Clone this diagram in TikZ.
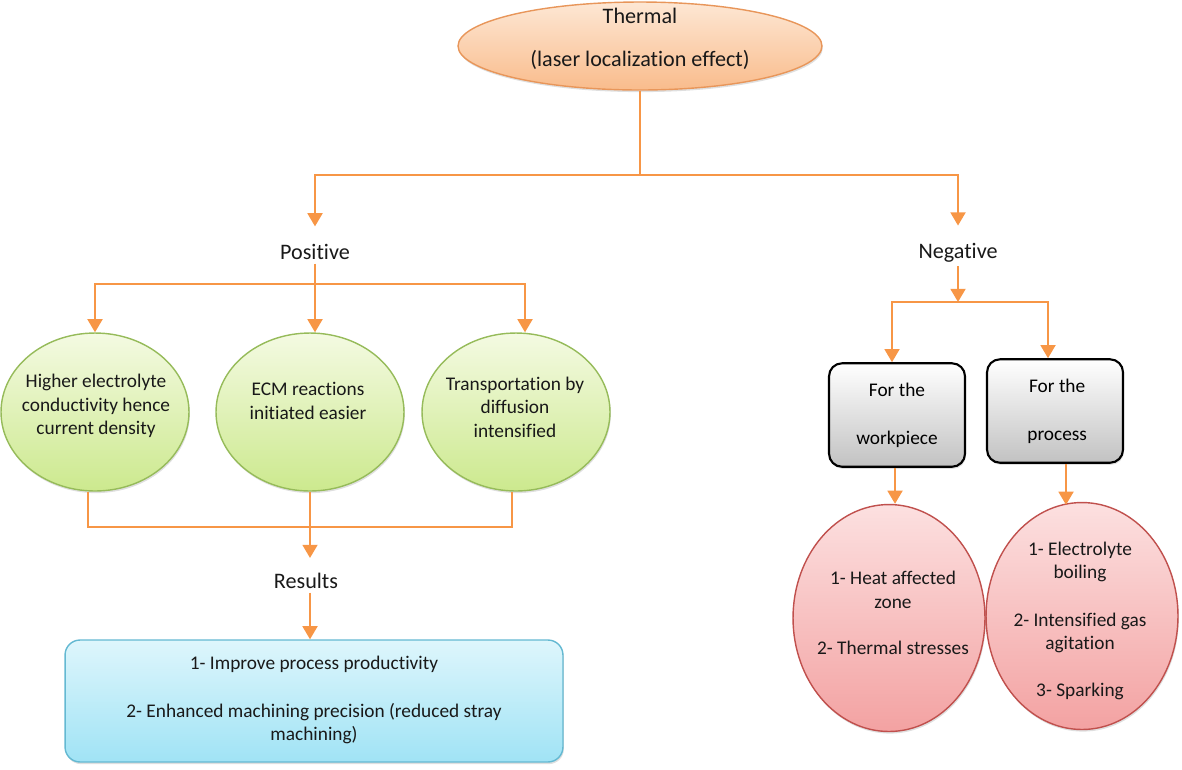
\documentclass[tikz,border=0pt]{standalone}
\usepackage{fontspec}
\setmainfont{Carlito}[Ligatures=NoCommon]
\usetikzlibrary{shapes.geometric,arrows.meta,shadows}
\definecolor{linkor}{RGB}{247,150,70}
\definecolor{thermtop}{RGB}{253,231,212}
\definecolor{thermbot}{RGB}{249,188,140}
\definecolor{thermline}{RGB}{232,150,90}
\definecolor{gtop}{RGB}{244,250,226}
\definecolor{gbot}{RGB}{204,233,142}
\definecolor{gline}{RGB}{150,187,90}
\definecolor{btop}{RGB}{222,246,252}
\definecolor{bbot}{RGB}{160,227,245}
\definecolor{bline}{RGB}{100,185,210}
\definecolor{ptop}{RGB}{252,224,224}
\definecolor{pbot}{RGB}{243,162,162}
\definecolor{pline}{RGB}{192,80,77}

\begin{document}
\begin{tikzpicture}[x=0.02cm, y=-0.02cm,
  font=\fontsize{11}{13.4}\selectfont,
  lnk/.style={draw=linkor, line width=1.2pt},
  arr/.style={lnk, -{Triangle[width=8.5pt,length=7.5pt]}},
  lbl/.style={inner sep=2pt, font=\fontsize{12.6}{15}\selectfont, text=black!90},
  txt/.style={align=center, inner sep=0pt, text=black!90},
  shd/.style={drop shadow={opacity=.25, shadow xshift=.5pt, shadow yshift=-1.2pt}},
  thermell/.style={ellipse, draw=thermline, line width=.8pt, top color=thermtop, bottom color=thermbot,
    minimum width=7.28cm, minimum height=1.76cm, shd},
  posell/.style={ellipse, draw=gline, line width=.8pt, top color=gtop, bottom color=gbot,
    minimum width=3.76cm, minimum height=3.16cm, shd},
  negell/.style={ellipse, draw=pline, line width=.8pt, top color=ptop, bottom color=pbot,
    minimum width=3.84cm, minimum height=4.54cm, shd},
  sidebox/.style={rectangle, rounded corners=0.26cm, draw=black, line width=1.2pt,
    top color=white, bottom color=black!24, minimum width=2.72cm, minimum height=2.07cm,
    align=center, shd},
  resbox/.style={rectangle, rounded corners=0.3cm, draw=bline, line width=.8pt, top color=btop, bottom color=bbot,
    minimum width=9.96cm, minimum height=2.44cm, shd}]

  \useasboundingbox (0,0) rectangle (1182,769);

  %% top
  \node[thermell] (therm) at (640,46) {};
  \node[txt, font=\fontsize{12.6}{15}\selectfont] (thermtxt) at (640,39) {Thermal\\[9.4pt](laser localization effect)};

  \node[lbl] (pos) at (315,252) {Positive};
  \node[lbl] (neg) at (958,253) {Negative};

  \coordinate (tj) at (640,175);
  \draw[lnk] (therm.south) -- (tj);
  \draw[arr, shorten >=8pt] (tj) -| (pos.north); % Thermal->Positive
  \draw[arr, shorten >=8pt] (tj) -| (neg.north); % Thermal->Negative

  %% positive side
  \node[posell] (g1) at (95,412) {};
  \node[posell] (g2) at (310,412) {};
  \node[posell] (g3) at (516,412) {};
  \node[txt] (g1txt) at (96,406) {Higher electrolyte\\conductivity hence\\current density};
  \node[txt] (g2txt) at (308,401) {ECM reactions\\initiated easier};
  \node[txt] (g3txt) at (515,407) {Transportation by\\diffusion\\intensified};

  \coordinate (pj) at (315,284);
  \draw[lnk] (pos.south) -- (pj);
  \draw[arr] (pj) -| (g1.north);
  \draw[arr] (pj) -| ([xshift=0.1cm]g2.north);
  \draw[arr] (pj) -| ([xshift=0.18cm]g3.north);

  \node[lbl] (res) at (306,581) {Results};
  \coordinate (rj) at (310,527);
  \draw[lnk] ([xshift=-0.14cm]g1.south) |- (rj) -| ([xshift=-0.08cm]g3.south);
  \draw[arr, shorten >=6.5pt] (g2.south) -- (g2.south |- res.north); % -> Results

  \node[resbox] (resbox) at (314,701) {};
  \node[txt] (restxt) at (314,700) {1- Improve process productivity\\[14pt]2- Enhanced machining precision (reduced stray\\machining)};
  \draw[arr] (g2.south |- res.south) -- (g2.south |- resbox.north);

  %% negative side
  \node[sidebox] (gw) at (897,415) {For the\\[13.8pt]workpiece};
  \node[sidebox] (gp) at (1055,411) {~For the\\[13.8pt]~process};

  \coordinate (nj) at (958,302);
  \draw[arr] (neg.south) -- (nj);
  \draw[arr] (nj) -| ([xshift=-0.1cm]gw.north);
  \draw[arr] (nj) -| ([xshift=-0.14cm]gp.north);

  \node[negell] (pw) at (889,618) {};
  \node[negell] (pp) at (1082,616) {};
  \node[txt] (pwtxt) at (893,613) {1- Heat affected\\zone\\[13.2pt]2- Thermal stresses};
  \node[txt] (pptxt) at (1080,621) {1- Electrolyte\\boiling\\[13.4pt]2- Intensified gas\\agitation\\[13.4pt]3- Sparking};

  \draw[arr] ([xshift=-0.04cm]gw.south) -- ([xshift=-0.04cm]gw.south |- pw.north);
  \draw[arr] ([xshift=0.22cm]gp.south) -- ([xshift=0.22cm,yshift=-0.06cm]gp.south |- pp.north);

\end{tikzpicture}
\end{document}
